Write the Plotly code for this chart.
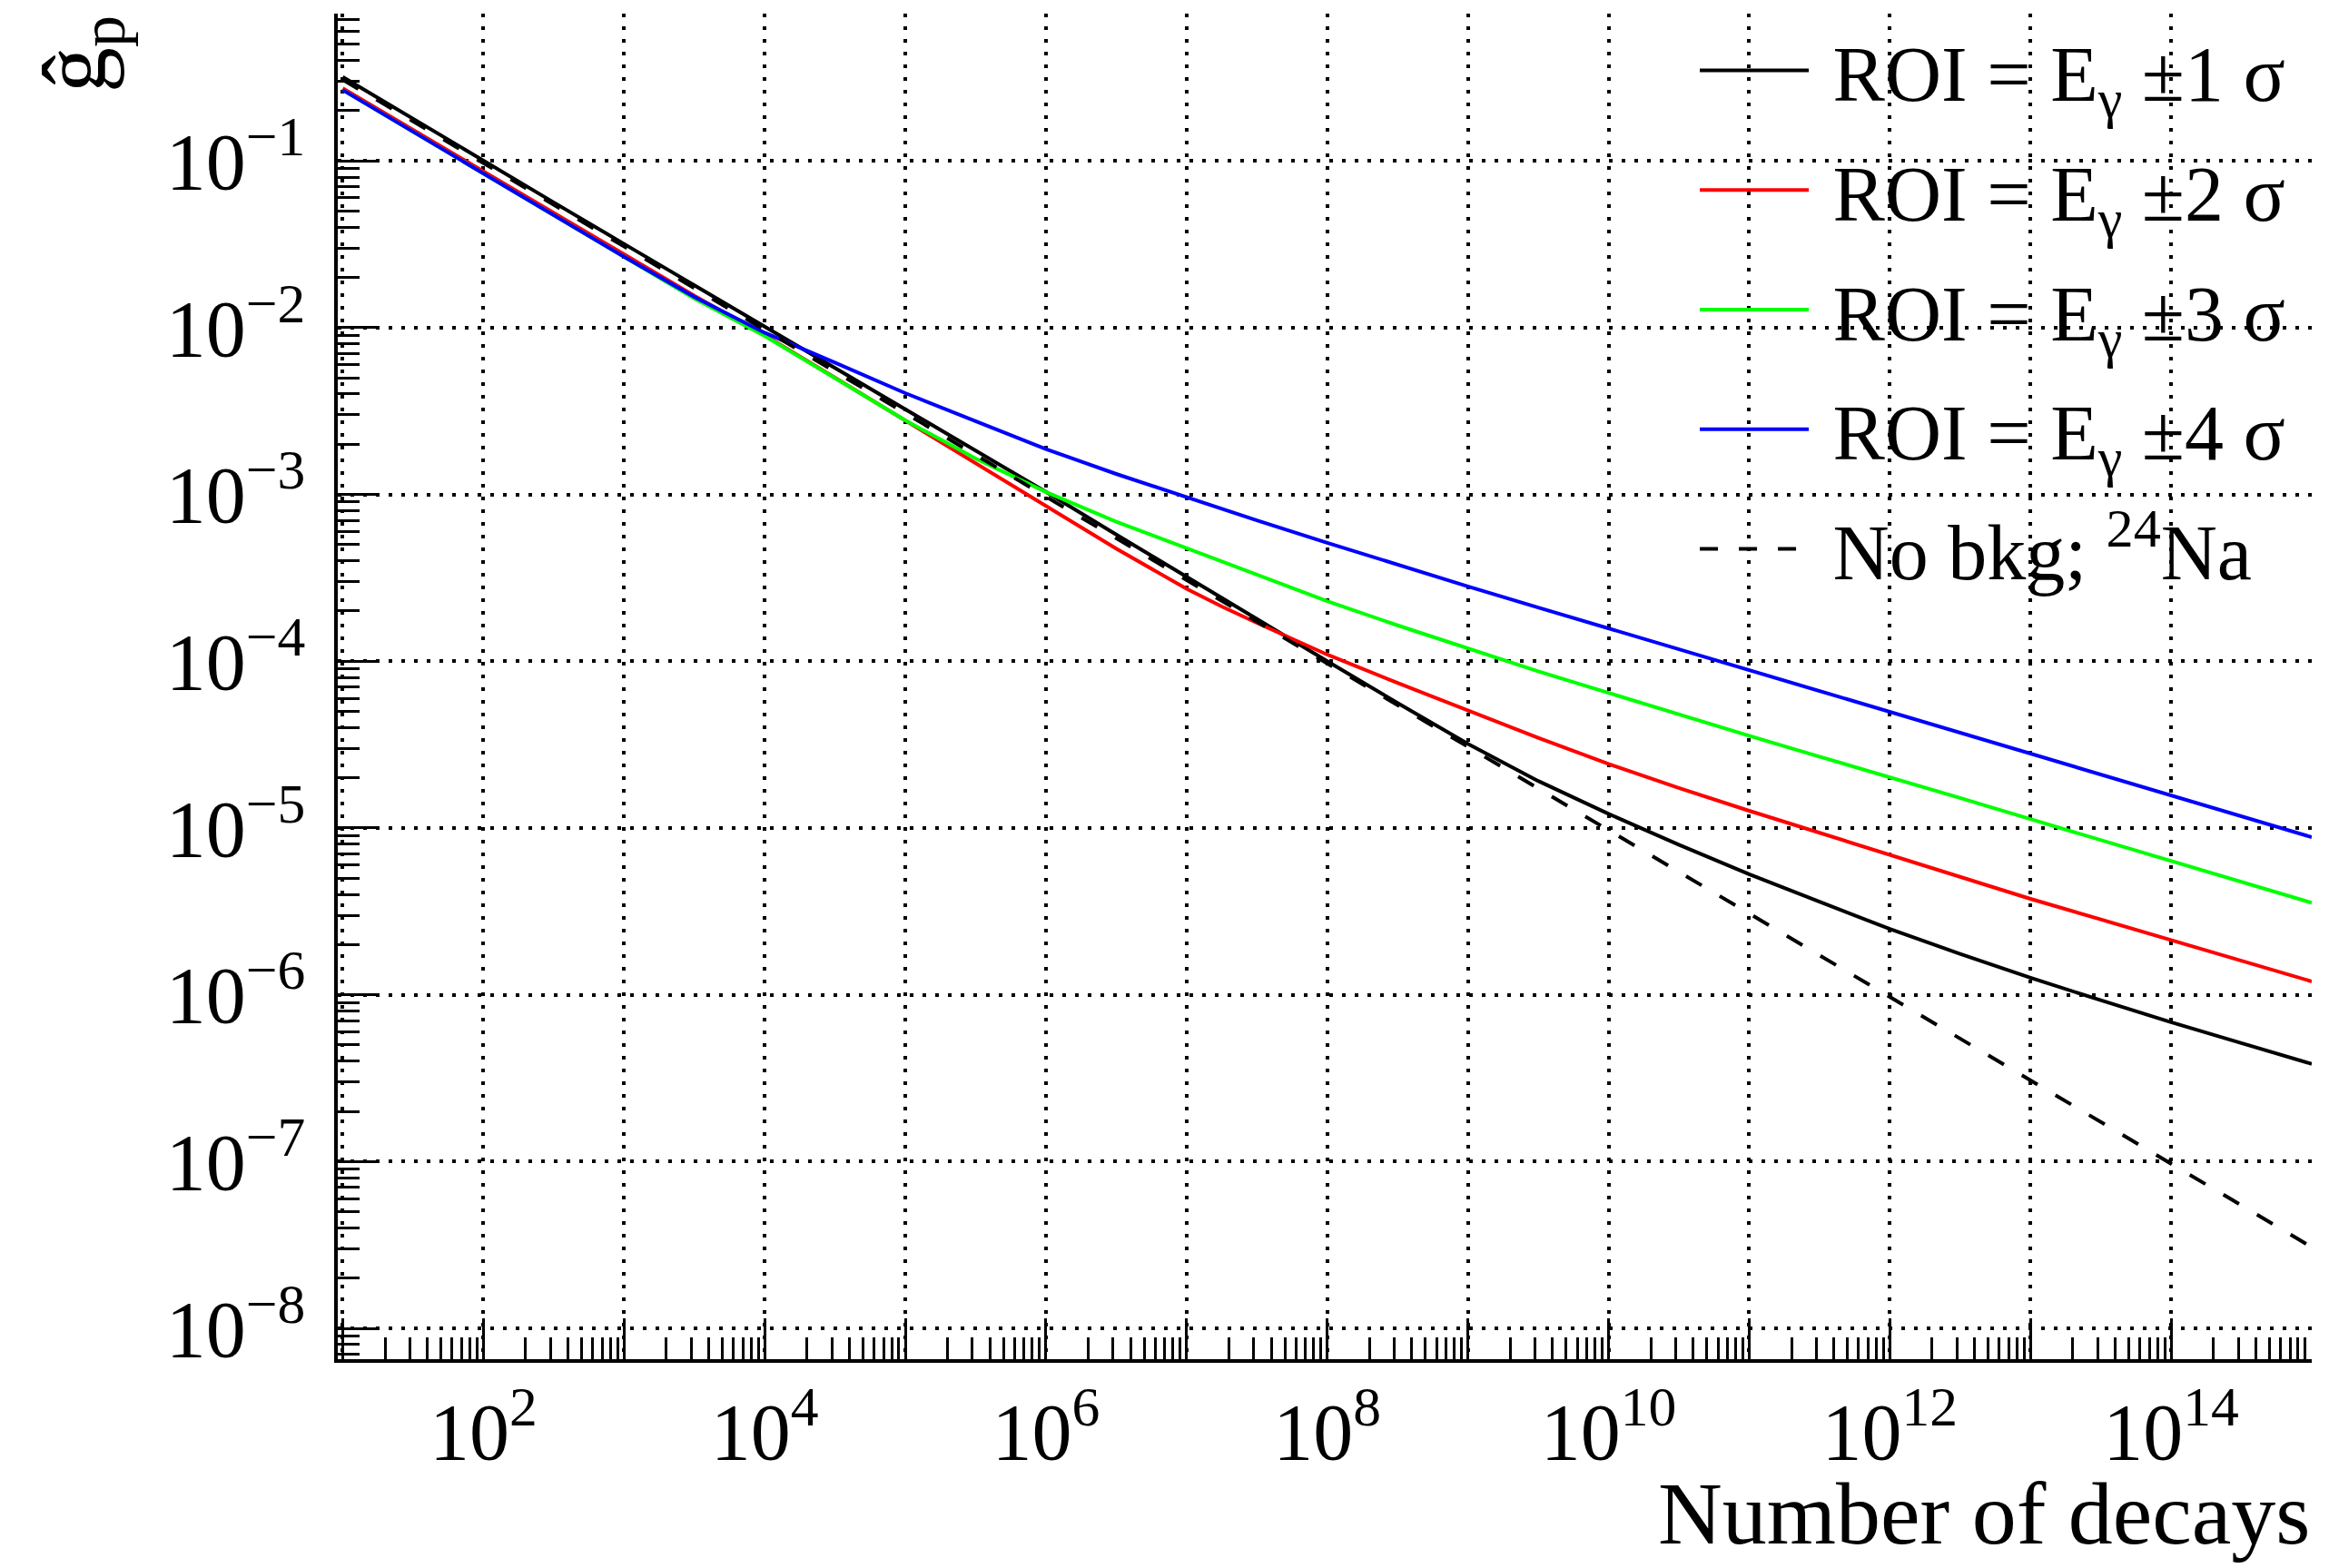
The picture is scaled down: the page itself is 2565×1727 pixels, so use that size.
import plotly.graph_objects as go

# ---------------- data ----------------
N_half = [1e1, 3.16e1, 1e2, 3.16e2, 1e3, 3.16e3, 1e4, 3.16e4, 1e5, 3.16e5,
          1e6, 3.16e6, 1e7, 3.16e7, 1e8, 3.16e8, 1e9, 3.16e9, 1e10, 3.16e10,
          1e11, 3.16e11, 1e12, 3.16e12, 1e13, 3.16e13, 1e14, 3.16e14, 1e15]

g_roi1 = [0.319, 0.1786, 0.1, 0.0564, 0.0318, 0.01795, 0.01012, 5.70e-3, 3.214e-3, 1.820e-3,
          1.035e-3, 5.75e-4, 3.20e-4, 1.786e-4, 1.0e-4, 5.62e-5, 3.20e-5, 1.914e-5, 1.216e-5, 7.94e-6,
          5.28e-6, 3.61e-6, 2.48e-6, 1.758e-6, 1.265e-6, 9.27e-7, 6.84e-7, 5.13e-7, 3.85e-7]

N_roi2 = [1e1, 3.16e1, 1e2, 3.16e2, 1e3, 3.16e3, 1e4, 3.16e4, 1e5, 3.16e5,
          1e6, 3.16e6, 1e7, 1.78e7, 3.16e7, 1e8, 3.16e8, 1e9, 3.16e9, 1e10, 3.16e10,
          1e11, 3.16e11, 1e12, 3.16e12, 1e13, 3.16e13, 1e14, 3.16e14, 1e15]
g_roi2 = [0.2723, 0.1531, 0.0861, 0.04864, 0.02754, 0.01556, 9.02e-3, 5.01e-3, 2.78e-3, 1.538e-3,
          8.51e-4, 4.73e-4, 2.72e-4, 2.13e-4, 1.698e-4, 1.096e-4, 7.41e-5, 5.07e-5, 3.47e-5, 2.42e-5,
          1.738e-5, 1.268e-5, 9.33e-6, 6.87e-6, 5.07e-6, 3.76e-6, 2.83e-6, 2.13e-6, 1.603e-6, 1.202e-6]

g_roi3 = [0.2661, 0.1496, 0.0841, 0.04753, 0.02692, 0.01496, 8.91e-3, 4.95e-3, 2.78e-3, 1.641e-3,
          1.035e-3, 6.87e-4, 4.76e-4, 3.31e-4, 2.29e-4, 1.641e-4, 1.191e-4, 8.71e-5, 6.46e-5, 4.79e-5,
          3.57e-5, 2.68e-5, 2.02e-5, 1.514e-5, 1.130e-5, 8.47e-6, 6.34e-6, 4.75e-6, 3.56e-6]

g_roi4 = [0.2661, 0.1493, 0.0837, 0.0472, 0.0266, 0.01531, 9.33e-3, 6.17e-3, 4.05e-3, 2.75e-3,
          1.871e-3, 1.327e-3, 9.59e-4, 7.00e-4, 5.13e-4, 3.78e-4, 2.81e-4, 2.10e-4, 1.574e-4, 1.180e-4,
          8.87e-5, 6.67e-5, 5.01e-5, 3.74e-5, 2.80e-5, 2.09e-5, 1.567e-5, 1.175e-5, 8.81e-6]

N_nobkg = [1e1, 1e2, 1e3, 1e4, 1e5, 1e6, 1e7, 1e8, 1e9, 1e10, 1e11, 1e12, 1e13, 1e14, 1e15]
g_nobkg = [0.307, 0.0970, 0.0307, 9.70e-3, 3.07e-3, 9.70e-4, 3.07e-4, 9.70e-5, 3.07e-5, 9.70e-6,
           3.07e-6, 9.70e-7, 3.07e-7, 9.70e-8, 3.07e-8]

series_names = ["ROI = E<sub>γ</sub> ±1 σ", "ROI = E<sub>γ</sub> ±2 σ",
                "ROI = E<sub>γ</sub> ±3 σ", "ROI = E<sub>γ</sub> ±4 σ",
                "No bkg; <sup>24</sup>Na"]
series_colors = ["#000000", "#ff0000", "#00ff00", "#0000ff", "#000000"]

x_exp_ticks = list(range(1, 16))
x_tick_text = ["10<sup>%d</sup>" % e if e % 2 == 0 else "" for e in x_exp_ticks]
y_exp_ticks = list(range(-8, 0))
y_tick_text = ["10<sup>\u2212%d</sup>" % (-e) for e in y_exp_ticks]

# ---------------- figure ----------------
FONT = "Liberation Serif"
W, H = 2565, 1727
L, R, T, B = 372, 19, 15, 230

fig = go.Figure()
xs = [N_half, N_roi2, N_half, N_half, N_nobkg]
ys = [g_roi1, g_roi2, g_roi3, g_roi4, g_nobkg]
for i, (x, y) in enumerate(zip(xs, ys)):
    fig.add_trace(go.Scatter(
        x=x, y=y, mode="lines", name="\u00a0" + series_names[i], legendgroup="g%d" % i,
        line=dict(color=series_colors[i], width=4,
                  dash=("20px,23px" if i == 4 else "solid")),
    ))

x_minor = [m * 10 ** e for e in range(0, 16) for m in range(2, 10)]
y_minor = [m * 10.0 ** e for e in range(-9, 0) for m in range(2, 10)]

axis_common = dict(
    type="log", showline=True, linecolor="black", linewidth=4, mirror=False,
    ticks="inside", ticklen=45, tickwidth=3, tickcolor="black",
    showgrid=True, gridcolor="black", gridwidth=3.5, griddash="4px,10px",
    zeroline=False, tickmode="array",
    tickfont=dict(family=FONT, size=88, color="black"),
)

fig.update_xaxes(
    **axis_common,
    range=[0.965, 15.0],
    tickvals=[10.0 ** e for e in x_exp_ticks], ticktext=x_tick_text,
    ticklabelstandoff=0,
    minor=dict(tickmode="array", tickvals=x_minor, ticks="inside", ticklen=24,
               tickwidth=3, tickcolor="black", showgrid=False),
)
fig.update_yaxes(
    **axis_common,
    range=[-8.185, -0.117],
    tickvals=[10.0 ** e for e in y_exp_ticks], ticktext=y_tick_text,
    ticklabelstandoff=14,
    minor=dict(tickmode="array", tickvals=y_minor, ticks="inside", ticklen=24,
               tickwidth=3, tickcolor="black", showgrid=False),
)

# white area behind the legend (hides gridlines like the original)
fig.add_shape(type="rect", xref="paper", yref="paper", x0=0.681, x1=1.0, y0=0.568, y1=1.0,
              fillcolor="white", line=dict(width=0), layer="between")

fig.add_annotation(text="Number of decays", xref="paper", yref="paper", x=1.0, y=-0.1525,
                   xanchor="right", yanchor="bottom", showarrow=False,
                   font=dict(family=FONT, size=98, color="black"))
fig.add_annotation(text="ĝ<sub>p</sub>", xref="paper", yref="paper", x=-0.13, y=1.0,
                   xanchor="center", yanchor="top", textangle=-90, showarrow=False,
                   font=dict(family=FONT, size=100, color="black"))

fig.update_layout(
    width=W, height=H,
    margin=dict(l=L, r=R, t=T, b=B, pad=0),
    paper_bgcolor="white", plot_bgcolor="white",
    showlegend=True,
    legend=dict(x=0.6877, xanchor="left", y=1.0, yanchor="top",
                bgcolor="rgba(0,0,0,0)", borderwidth=0,
                font=dict(family=FONT, size=86, color="black"),
                itemwidth=120, tracegroupgap=17, traceorder="grouped"),
    font=dict(family=FONT, color="black"),
)

fig.write_html("out.html")
